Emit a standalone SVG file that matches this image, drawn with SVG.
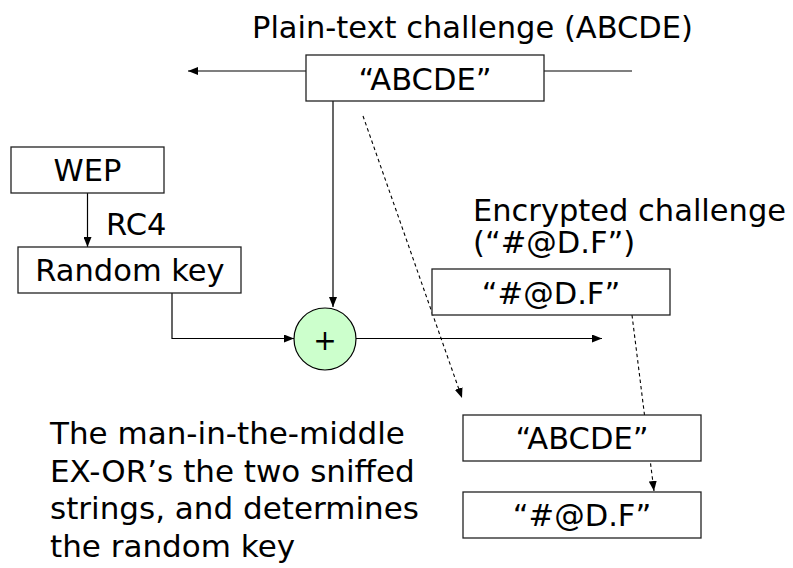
<svg xmlns="http://www.w3.org/2000/svg" width="793" height="568" viewBox="0 0 793 568">
  <defs>
    <marker id="arrow" viewBox="0 0 10 8" refX="10" refY="4" markerWidth="10" markerHeight="8" markerUnits="userSpaceOnUse" orient="auto">
      <path d="M0,0 L10,4 L0,8 Z" fill="#000"/>
    </marker>
  </defs>
  <style>
    text { font-family: "DejaVu Sans", Verdana, sans-serif; font-size: 30.5px; fill: #000; }
    .mid { text-anchor: middle; }
    .para { font-size: 31px; }
    .box { fill: #fff; stroke: #222; stroke-width: 1.3; }
    .line { fill: none; stroke: #000; stroke-width: 1.2; }
    .dash { fill: none; stroke: #000; stroke-width: 1.1; stroke-dasharray: 3.5 3; }
  </style>
  <rect width="793" height="568" fill="#fff"/>

  <!-- connectors -->
  <g id="connectors">
    <line class="line" x1="306" y1="71" x2="188" y2="71" marker-end="url(#arrow)"/>
    <line class="line" x1="544" y1="71" x2="632" y2="71"/>
    <line class="line" x1="333" y1="101" x2="333" y2="307" marker-end="url(#arrow)"/>
    <line class="line" x1="87.5" y1="193" x2="87.5" y2="247" marker-end="url(#arrow)"/>
    <polyline class="line" points="172,293 172,338.5 294,338.5" marker-end="url(#arrow)"/>
    <line class="line" x1="356" y1="338.5" x2="602" y2="338.5" marker-end="url(#arrow)"/>
    <line class="dash" x1="363" y1="116" x2="462" y2="398" marker-end="url(#arrow)"/>
    <line class="dash" x1="632" y1="315" x2="654" y2="491" marker-end="url(#arrow)"/>
  </g>

  <!-- plain-text challenge -->
  <g id="plain-challenge">
    <text x="252" y="38">Plain-text challenge (ABCDE)</text>
    <rect class="box" x="306" y="55" width="238" height="46"/>
    <text class="mid" x="425" y="90">“ABCDE”</text>
  </g>

  <!-- key generation -->
  <g id="wep">
    <rect class="box" x="11" y="147" width="153" height="46"/>
    <text class="mid" x="87.5" y="181">WEP</text>
  </g>
  <g id="rc4-label">
    <text x="106" y="235">RC4</text>
  </g>
  <g id="random-key">
    <rect class="box" x="18" y="247" width="223" height="46"/>
    <text class="mid" x="130" y="281">Random key</text>
  </g>

  <!-- XOR -->
  <g id="xor">
    <circle cx="325" cy="339" r="31" fill="#ccffcc" stroke="#000" stroke-width="1.2"/>
    <text class="mid" x="325" y="350" style="font-size:28px">+</text>
  </g>

  <!-- encrypted challenge -->
  <g id="encrypted-challenge">
    <text x="473" y="221">Encrypted challenge</text>
    <text x="473" y="253">(“#@D.F”)</text>
    <rect class="box" x="432" y="269" width="238" height="46"/>
    <text class="mid" x="551" y="304">“#@D.F”</text>
  </g>

  <!-- sniffed strings -->
  <g id="sniffed-plain">
    <rect class="box" x="463" y="415" width="238" height="46"/>
    <text class="mid" x="582" y="449">“ABCDE”</text>
  </g>
  <g id="sniffed-encrypted">
    <rect class="box" x="463" y="492" width="238" height="46"/>
    <text class="mid" x="582" y="526">“#@D.F”</text>
  </g>

  <!-- explanation -->
  <g id="explanation">
    <text class="para" x="50" y="444">The man-in-the-middle</text>
    <text class="para" x="50" y="481.5">EX-OR’s the two sniffed</text>
    <text class="para" x="50" y="519">strings, and determines</text>
    <text class="para" x="50" y="556.5">the random key</text>
  </g>
</svg>
